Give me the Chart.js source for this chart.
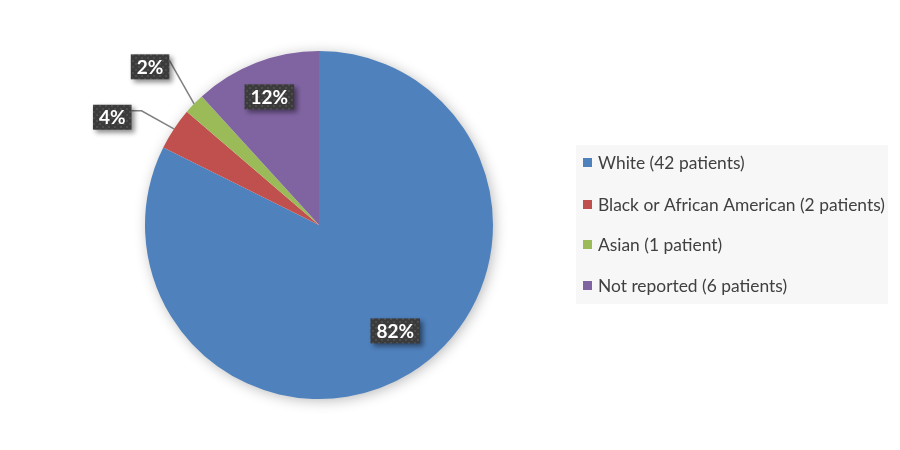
<!DOCTYPE html>
<html>
<head>
<meta charset="utf-8">
<script src="https://cdn.jsdelivr.net/npm/chart.js@4"></script>
<style>
  html, body { margin: 0; padding: 0; background: #fff; }
  #wrap { width: 900px; height: 450px; position: relative; }
</style>
</head>
<body>
<div id="wrap"><canvas id="raceChart" width="900" height="450"></canvas></div>
<script>
// Patients by race
const RACE_LABELS = ['White (42 patients)', 'Black or African American (2 patients)', 'Asian (1 patient)', 'Not reported (6 patients)'];
const RACE_COUNTS = [42, 2, 1, 6];
const RACE_COLORS = ['#4f81bd', '#c0504d', '#9bbb59', '#8064a2'];

// where each percentage tag sits: radius factor of the pie, angle shift (deg), outside => leader line
const TAG_PLACES = [
  { r: 0.75, shift: -4, outside: false },
  { r: 1.34, shift: -6, outside: true, elbow: 10 },
  { r: 1.33, shift: -1, outside: true, elbow: 0 },
  { r: 0.79, shift: 0, outside: false }
];

function makeTagPattern(ctx) {
  const c = document.createElement('canvas');
  c.width = 6; c.height = 6;
  const p = c.getContext('2d');
  p.fillStyle = '#3b3b3b';
  p.fillRect(0, 0, 6, 6);
  p.fillStyle = '#4d4d4d';
  p.fillRect(0, 0, 2, 2);
  p.fillRect(3, 3, 2, 2);
  return ctx.createPattern(c, 'repeat');
}

const pieShadow = {
  id: 'pieShadow',
  beforeDatasetsDraw(chart) {
    const arc = chart.getDatasetMeta(0).data[0];
    if (!arc) return;
    const ctx = chart.ctx;
    ctx.save();
    ctx.shadowColor = 'rgba(0,0,0,0.30)';
    ctx.shadowBlur = 14;
    ctx.shadowOffsetX = 2;
    ctx.shadowOffsetY = 2;
    ctx.fillStyle = '#ffffff';
    ctx.beginPath();
    ctx.arc(arc.x, arc.y, arc.outerRadius - 1, 0, Math.PI * 2);
    ctx.fill();
    ctx.restore();
  }
};

const percentTags = {
  id: 'percentTags',
  afterDraw(chart) {
    const ctx = chart.ctx;
    const total = RACE_COUNTS.reduce((a, b) => a + b, 0);
    const pattern = makeTagPattern(ctx);
    chart.getDatasetMeta(0).data.forEach((arc, i) => {
      const place = TAG_PLACES[i];
      const mid = (arc.startAngle + arc.endAngle) / 2;
      const ang = mid + place.shift * Math.PI / 180;
      const R = arc.outerRadius;
      const tx = arc.x + Math.cos(ang) * R * place.r;
      const ty = arc.y + Math.sin(ang) * R * place.r;
      const text = Math.round(RACE_COUNTS[i] / total * 100) + '%';

      ctx.save();
      ctx.font = 'bold 19px Lato, "DejaVu Sans", sans-serif';
      const w = ctx.measureText(text).width + 12;
      const h = 25;
      const bx = tx - w / 2, by = ty - h / 2;

      if (place.outside) {
        const ex = arc.x + Math.cos(mid) * R;
        const ey = arc.y + Math.sin(mid) * R;
        ctx.strokeStyle = '#7f7f7f';
        ctx.lineWidth = 1.5;
        ctx.beginPath();
        ctx.moveTo(bx + w, by + 6);
        ctx.lineTo(bx + w + place.elbow, by + 6);
        ctx.lineTo(ex, ey);
        ctx.stroke();
      }

      ctx.shadowColor = 'rgba(0,0,0,0.45)';
      ctx.shadowBlur = 5;
      ctx.shadowOffsetX = 3;
      ctx.shadowOffsetY = 3;
      ctx.fillStyle = pattern;
      ctx.fillRect(bx, by, w, h);
      ctx.shadowColor = 'transparent';
      ctx.fillStyle = '#ffffff';
      ctx.textAlign = 'center';
      ctx.textBaseline = 'middle';
      ctx.fillText(text, tx, ty + 1);
      ctx.restore();
    });
  }
};

const sideLegend = {
  id: 'sideLegend',
  afterDraw(chart) {
    const ctx = chart.ctx;
    const left = 576, top = 145, width = 312, height = 159;
    const rows = [162, 204, 244, 285];
    ctx.save();
    ctx.fillStyle = '#f7f7f7';
    ctx.fillRect(left, top, width, height);
    ctx.font = '17.4px Lato, "Liberation Sans", sans-serif';
    ctx.textBaseline = 'middle';
    chart.data.labels.forEach((label, i) => {
      ctx.fillStyle = chart.data.datasets[0].backgroundColor[i];
      ctx.fillRect(583, rows[i] - 4, 9, 9);
      ctx.fillStyle = '#404040';
      ctx.fillText(label, 598, rows[i] + 1);
    });
    ctx.restore();
  }
};

new Chart(document.getElementById('raceChart'), {
  type: 'pie',
  data: {
    labels: RACE_LABELS,
    datasets: [{
      data: RACE_COUNTS,
      backgroundColor: RACE_COLORS,
      borderWidth: 0
    }]
  },
  options: {
    responsive: false,
    animation: false,
    layout: { padding: { left: 145, right: 407, top: 51, bottom: 51 } },
    plugins: {
      legend: { display: false },
      tooltip: { enabled: false }
    }
  },
  plugins: [pieShadow, percentTags, sideLegend]
});
</script>
</body>
</html>
